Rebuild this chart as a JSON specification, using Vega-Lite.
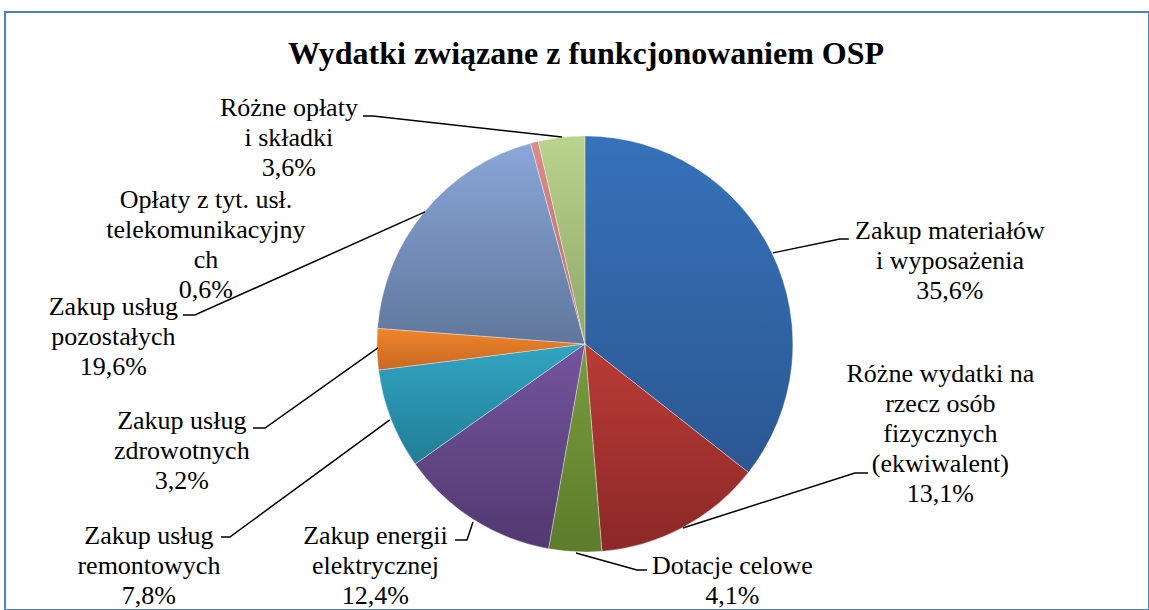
{
  "$schema": "https://vega.github.io/schema/vega-lite/v6.json",
  "width": 1144,
  "height": 598,
  "autosize": {"type": "none"},
  "padding": {"left": 5, "top": 12, "right": 0, "bottom": 0},
  "background": "white",
  "config": {"font": "Liberation Serif", "view": {"stroke": "#4F81BD", "strokeWidth": 2}, "text": {"font": "Liberation Serif"}},
  "title": {
    "text": "Wydatki związane z funkcjonowaniem OSP",
    "font": "Liberation Serif",
    "fontSize": 32,
    "fontWeight": "bold",
    "color": "black",
    "anchor": "middle",
    "offset": -56,
    "dx": 9,
    "dy": 3
  },
  "datasets": {
    "slices": [
      {"k": 1, "name": "Zakup materiałów i wyposażenia", "pct": 35.6},
      {"k": 2, "name": "Różne wydatki na rzecz osób fizycznych (ekwiwalent)", "pct": 13.1},
      {"k": 3, "name": "Dotacje celowe", "pct": 4.1},
      {"k": 4, "name": "Zakup energii elektrycznej", "pct": 12.4},
      {"k": 5, "name": "Zakup usług remontowych", "pct": 7.8},
      {"k": 6, "name": "Zakup usług zdrowotnych", "pct": 3.2},
      {"k": 7, "name": "Zakup usług pozostałych", "pct": 19.6},
      {"k": 8, "name": "Opłaty z tyt. usł. telekomunikacyjnych", "pct": 0.6},
      {"k": 9, "name": "Różne opłaty i składki", "pct": 3.6}
    ],
    "labels": [
      {"k": 1, "label": "Zakup materiałów\ni wyposażenia\n35,6%", "x": 175.5, "y": -50.5},
      {"k": 2, "label": "Różne wydatki na\nrzecz osób\nfizycznych\n(ekwiwalent)\n13,1%", "x": 170.9, "y": 18.3},
      {"k": 3, "label": "Dotacje celowe\n4,1%", "x": 70.9, "y": 110.6},
      {"k": 4, "label": "Zakup energii\nelektrycznej\n12,4%", "x": -100.7, "y": 96.2},
      {"k": 5, "label": "Zakup usług\nremontowych\n7,8%", "x": -209.6, "y": 96.2},
      {"k": 6, "label": "Zakup usług\nzdrowotnych\n3,2%", "x": -193.8, "y": 40.9},
      {"k": 7, "label": "Zakup usług\npozostałych\n19,6%", "x": -226.7, "y": -13.9},
      {"k": 8, "label": "Opłaty z tyt. usł.\ntelekomunikacyjny\nch\n0,6%", "x": -182.2, "y": -65.4},
      {"k": 9, "label": "Różne opłaty\ni składki\n3,6%", "x": -142.3, "y": -109.6}
    ],
    "leaders": [
      {"id": 1, "i": 0, "x": 90.4, "y": -43.8},
      {"id": 1, "i": 1, "x": 122.6, "y": -50.5},
      {"id": 1, "i": 2, "x": 126.9, "y": -50.5},
      {"id": 2, "i": 0, "x": 47.1, "y": 88.5},
      {"id": 2, "i": 1, "x": 129.8, "y": 62.0},
      {"id": 2, "i": 2, "x": 136.1, "y": 62.0},
      {"id": 3, "i": 0, "x": -4.3, "y": 100.5},
      {"id": 3, "i": 1, "x": 25.0, "y": 108.7},
      {"id": 3, "i": 2, "x": 29.8, "y": 108.7},
      {"id": 4, "i": 0, "x": -53.8, "y": 85.6},
      {"id": 4, "i": 1, "x": -56.7, "y": 94.2},
      {"id": 4, "i": 2, "x": -62.5, "y": 94.2},
      {"id": 5, "i": 0, "x": -93.8, "y": 36.5},
      {"id": 5, "i": 1, "x": -170.7, "y": 92.8},
      {"id": 5, "i": 2, "x": -175.0, "y": 92.8},
      {"id": 6, "i": 0, "x": -99.5, "y": 1.9},
      {"id": 6, "i": 1, "x": -153.8, "y": 40.4},
      {"id": 6, "i": 2, "x": -159.6, "y": 40.4},
      {"id": 7, "i": 0, "x": -76.9, "y": -63.5},
      {"id": 7, "i": 1, "x": -187.5, "y": -13.9},
      {"id": 7, "i": 2, "x": -193.3, "y": -13.9},
      {"id": 9, "i": 0, "x": -11.1, "y": -99.5},
      {"id": 9, "i": 1, "x": -101.9, "y": -109.6},
      {"id": 9, "i": 2, "x": -106.7, "y": -109.6}
    ]
  },
  "layer": [
    {
      "data": {"name": "slices"},
      "mark": {"type": "arc", "outerRadius": 208, "stroke": "white", "strokeWidth": 0.6, "strokeOpacity": 0.6},
      "encoding": {
        "theta": {"field": "pct", "type": "quantitative", "stack": true},
        "order": {"field": "k", "type": "quantitative", "sort": "ascending"},
        "x": {"datum": 0, "type": "quantitative", "scale": {"domain": [-278.8, 271.2], "nice": false, "zero": false}, "axis": null},
        "y": {"datum": 0, "type": "quantitative", "scale": {"domain": [-159.6, 127.9], "reverse": true, "nice": false, "zero": false}, "axis": null},
        "color": {
          "condition": [
            {"test": "datum.k === 1", "value": {"gradient": "linear", "x1": 0, "y1": 0, "x2": 0, "y2": 1, "stops": [{"offset": 0, "color": "#3672BA"}, {"offset": 1, "color": "#2B5792"}]}},
            {"test": "datum.k === 2", "value": {"gradient": "linear", "x1": 0, "y1": 0, "x2": 0, "y2": 1, "stops": [{"offset": 0, "color": "#BA3C37"}, {"offset": 1, "color": "#8B2827"}]}},
            {"test": "datum.k === 3", "value": {"gradient": "linear", "x1": 0, "y1": 0, "x2": 0, "y2": 1, "stops": [{"offset": 0, "color": "#7A9B3D"}, {"offset": 1, "color": "#5D7C2C"}]}},
            {"test": "datum.k === 4", "value": {"gradient": "linear", "x1": 0, "y1": 0, "x2": 0, "y2": 1, "stops": [{"offset": 0, "color": "#74549D"}, {"offset": 1, "color": "#523971"}]}},
            {"test": "datum.k === 5", "value": {"gradient": "linear", "x1": 0, "y1": 0, "x2": 0, "y2": 1, "stops": [{"offset": 0, "color": "#31A5C3"}, {"offset": 1, "color": "#227D95"}]}},
            {"test": "datum.k === 6", "value": {"gradient": "linear", "x1": 0, "y1": 0, "x2": 0, "y2": 1, "stops": [{"offset": 0, "color": "#F0862A"}, {"offset": 1, "color": "#C86823"}]}},
            {"test": "datum.k === 7", "value": {"gradient": "linear", "x1": 0, "y1": 0, "x2": 0, "y2": 1, "stops": [{"offset": 0, "color": "#8AA7D8"}, {"offset": 1, "color": "#60769C"}]}},
            {"test": "datum.k === 8", "value": {"gradient": "linear", "x1": 0, "y1": 0, "x2": 0, "y2": 1, "stops": [{"offset": 0, "color": "#D98D8A"}, {"offset": 1, "color": "#B76E6C"}]}},
            {"test": "datum.k === 9", "value": {"gradient": "linear", "x1": 0, "y1": 0, "x2": 0, "y2": 1, "stops": [{"offset": 0, "color": "#B9D48D"}, {"offset": 1, "color": "#8FA668"}]}}
          ],
          "value": "#888888"
        }
      }
    },
    {
      "data": {"name": "leaders"},
      "mark": {"type": "line", "color": "black", "strokeWidth": 1.5},
      "encoding": {
        "x": {"field": "x", "type": "quantitative"},
        "y": {"field": "y", "type": "quantitative"},
        "detail": {"field": "id", "type": "nominal"},
        "order": {"field": "i", "type": "quantitative"}
      }
    },
    {
      "data": {"name": "labels"},
      "mark": {"type": "text", "font": "Liberation Serif", "fontSize": 26, "lineHeight": 30, "lineBreak": "\n", "align": "center", "baseline": "alphabetic", "color": "black"},
      "encoding": {
        "x": {"field": "x", "type": "quantitative"},
        "y": {"field": "y", "type": "quantitative"},
        "text": {"field": "label", "type": "nominal"}
      }
    }
  ]
}
